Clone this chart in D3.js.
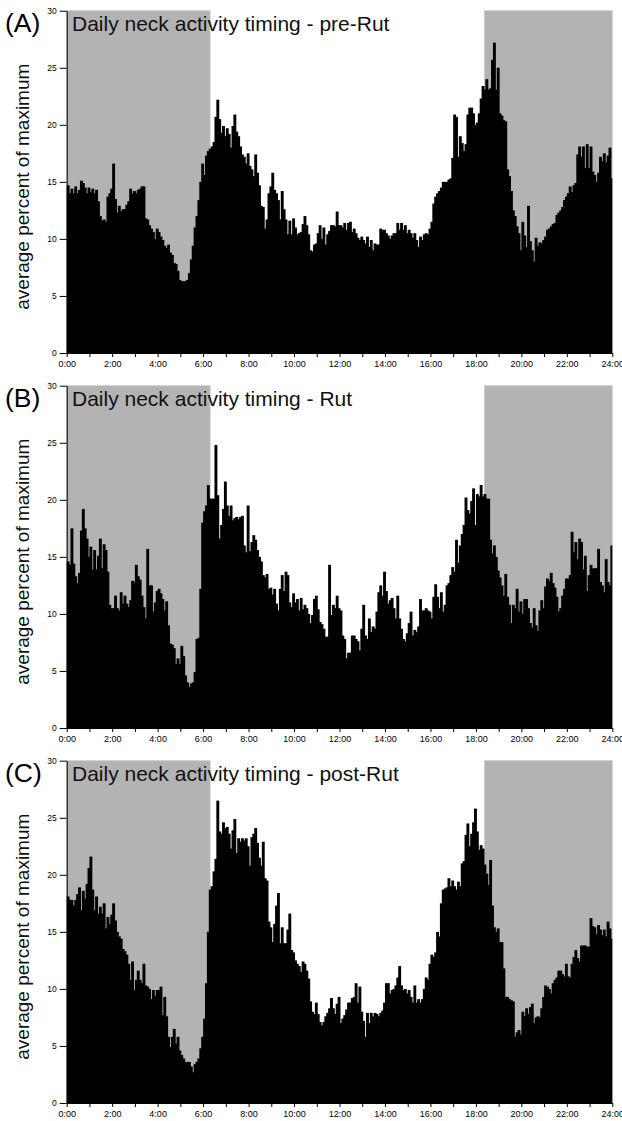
<!DOCTYPE html>
<html>
<head>
<meta charset="utf-8">
<script src="https://cdn.jsdelivr.net/npm/d3@7"></script>
<style>
  html, body { margin: 0; padding: 0; background: #fff; }
  svg { display: block; }
  text { font-family: "Liberation Sans", Arial, Helvetica, sans-serif; }
</style>
</head>
<body>
<svg id="chart" width="622" height="1121"></svg>
<script>
// ---- data (5-minute bins, 0:00 -> 24:00, 288 bins each) ----
const panelLetters = ["(A)", "(B)", "(C)"];
const panelTitles = [
  "Daily neck activity timing - pre-Rut",
  "Daily neck activity timing - Rut",
  "Daily neck activity timing - post-Rut"
];
const yTicks = [0, 5, 10, 15, 20, 25, 30];
const xTickHours = [0,1,2,3,4,5,6,7,8,9,10,11,12,13,14,15,16,17,18,19,20,21,22,23,24];
const xTickLabels = ["0:00","","2:00","","4:00","","6:00","","8:00","","10:00","","12:00","","14:00","","16:00","","18:00","","20:00","","22:00","","24:00"];
const darkMorningEnd = 6.31;   // hours
const darkEveningStart = 18.37; // hours
const yLabel = "average percent of maximum";

const preRut = [
14.7,14.0,14.4,14.0,14.6,14.0,14.3,15.1,14.9,14.5,
14.0,14.5,14.1,14.4,14.0,14.3,13.3,12.0,11.6,11.7,
11.5,13.7,14.0,14.4,16.6,13.5,12.3,12.9,12.4,12.6,
12.6,13.0,13.3,14.4,14.0,14.2,14.0,14.3,14.4,14.6,
14.6,11.8,11.7,11.2,10.9,10.6,10.0,10.9,10.6,10.2,
9.9,9.4,9.2,9.5,8.8,8.6,7.9,7.8,7.2,6.4,
6.3,6.3,6.3,6.4,7.0,8.2,9.4,11.0,12.0,13.4,
15.0,16.6,15.6,17.3,17.7,17.9,18.1,18.5,20.7,22.2,
20.5,19.3,19.9,19.0,19.7,19.2,18.0,19.9,20.9,19.4,
19.0,18.1,17.4,17.2,16.6,17.5,16.4,16.1,15.5,17.4,
15.8,14.7,12.9,12.8,10.9,11.7,14.0,14.6,15.8,14.3,
14.0,13.4,11.7,14.2,12.6,11.7,10.4,11.6,10.4,11.8,
11.0,10.4,10.5,10.6,11.3,12.0,11.2,10.4,9.0,8.9,
9.5,9.6,10.5,11.2,10.0,11.0,9.5,10.4,10.7,11.2,
11.2,11.1,12.4,11.2,
11.2,11.0,11.4,10.8,11.4,11.5,10.6,10.9,10.5,10.1,
9.9,10.2,9.9,9.6,10.2,9.3,9.9,9.0,9.6,9.5,
9.5,10.9,10.8,10.8,10.5,10.3,10.0,10.3,10.5,10.5,
11.4,10.8,11.4,10.8,11.2,10.5,10.8,10.5,10.1,10.5,
9.9,9.3,10.2,9.9,10.4,10.5,10.4,10.9,11.5,13.1,
13.7,14.0,14.2,14.5,15.0,15.0,15.0,15.2,15.3,17.1,
20.9,20.7,17.2,19.0,18.4,17.7,18.3,20.9,21.5,21.5,
21.0,20.0,20.2,21.0,22.3,23.4,23.1,24.0,23.1,23.2,
25.7,27.2,23.1,25.0,21.0,20.8,20.4,20.3,16.1,15.5,
14.2,12.5,12.0,11.1,10.5,9.0,11.5,10.3,9.3,12.9,
9.8,9.0,8.0,10.1,9.4,9.7,9.6,9.9,10.2,10.8,
10.9,11.1,11.3,11.4,12.1,12.3,12.5,12.8,13.4,13.7,
14.0,14.6,14.1,14.7,14.9,17.4,18.1,17.2,18.1,16.2,
18.3,16.2,18.1,15.9,15.6,15.0,15.8,17.2,16.8,17.5,
16.7,17.3,18.0,15.3
];

const rut = [
14.6,14.3,17.5,14.4,13.3,12.7,13.6,17.3,19.2,17.5,
16.6,15.0,15.9,13.9,15.6,13.9,15.1,16.6,14.0,16.1,
15.6,13.7,10.8,10.5,10.5,11.6,10.5,10.3,11.9,10.9,
11.6,10.9,10.6,11.2,12.9,12.8,14.3,13.3,13.0,11.6,
10.6,9.6,15.7,12.5,12.5,10.2,11.0,12.0,12.2,11.8,
11.3,10.3,11.1,9.0,7.4,7.3,7.0,5.6,6.1,5.6,
7.2,6.3,4.6,4.0,3.6,3.9,4.0,4.9,7.8,7.9,
12.2,18.0,19.0,19.5,21.3,20.1,20.1,20.1,24.8,20.4,
16.6,17.8,19.2,21.6,19.5,18.6,19.5,18.2,18.4,18.5,
18.3,18.5,18.6,16.0,15.4,19.5,15.5,16.3,16.9,16.5,
15.6,15.0,14.6,13.4,13.2,13.5,12.2,12.3,11.7,12.2,
10.9,10.3,12.2,13.4,12.0,13.7,13.4,11.0,10.6,11.8,
11.0,11.3,10.3,11.4,10.4,10.8,10.5,10.0,9.2,9.9,
11.3,11.6,10.4,9.3,9.1,8.7,8.0,8.0,14.3,9.9,
10.8,10.5,11.6,10.5,
10.3,8.1,7.8,6.1,6.6,6.6,8.1,8.1,7.8,7.6,
6.8,8.7,10.8,8.1,7.8,9.6,8.4,8.9,8.7,10.2,
11.9,12.5,11.6,13.7,12.0,10.9,11.2,11.4,10.5,9.6,
11.6,9.6,8.7,7.8,7.6,8.3,9.2,10.2,8.1,8.6,
8.4,8.9,11.3,10.3,10.3,10.5,10.3,10.2,9.6,11.5,
12.6,11.5,10.5,11.9,10.2,10.8,12.5,12.7,13.4,14.1,
13.7,16.5,14.5,16.0,17.0,17.8,20.2,19.1,18.8,19.9,
21.0,17.8,20.5,20.3,21.3,20.3,20.5,20.1,20.1,16.5,
15.3,16.0,15.0,13.8,13.2,12.5,11.6,13.5,11.5,10.8,
9.2,10.8,10.5,12.2,10.2,11.1,10.0,11.3,11.3,10.5,
9.2,8.8,10.5,9.0,8.5,10.3,11.2,10.5,12.4,13.1,
12.9,13.6,12.7,12.3,11.5,10.2,10.5,11.6,12.2,13.1,
13.1,13.4,17.2,15.4,16.3,14.8,16.6,16.3,13.9,15.1,
12.0,13.4,14.3,14.0,14.0,14.0,15.7,12.8,12.5,11.9,
14.8,12.8,12.5,16.0
];

const postRut = [
18.1,17.8,17.8,17.3,17.8,18.3,18.9,16.9,18.6,17.9,
19.2,20.6,21.6,18.7,16.9,18.1,16.6,17.2,16.6,17.5,
15.3,16.3,15.7,16.5,17.5,16.0,15.0,14.6,14.4,13.5,
13.3,13.0,12.2,10.8,12.4,9.9,10.8,11.6,10.8,10.5,
12.2,10.3,10.2,10.0,9.1,9.9,9.4,9.9,9.9,10.2,
7.7,9.3,7.6,5.8,4.9,5.8,6.5,5.2,5.8,4.6,
4.2,3.9,3.6,3.6,3.6,3.2,2.7,3.4,3.6,3.9,
4.8,5.8,7.4,10.5,15.0,18.7,19.0,20.3,21.4,26.5,
23.8,23.6,24.6,24.1,24.2,23.6,22.3,23.9,24.9,21.9,
23.2,22.9,23.2,23.0,23.2,22.5,20.8,23.3,23.6,24.1,
22.8,21.5,20.8,22.9,19.7,19.5,15.9,15.4,14.1,15.7,
17.3,18.4,14.0,15.4,14.0,14.0,15.2,16.6,13.4,13.2,
12.5,12.2,12.0,11.5,12.4,12.2,11.6,10.9,8.9,8.0,
7.8,8.8,7.8,7.1,6.8,7.1,7.6,7.9,8.3,9.2,
8.3,7.8,8.7,9.3,
7.0,7.4,7.7,8.2,8.8,8.8,9.2,9.3,10.5,8.8,
10.2,8.0,7.2,5.8,7.9,7.0,7.9,7.6,7.9,7.8,
7.6,7.9,8.1,8.8,10.5,10.5,9.6,9.9,10.0,10.3,
11.0,12.0,10.3,9.9,10.0,9.6,9.9,9.3,8.8,10.3,
8.8,9.1,8.8,9.1,10.0,11.0,10.8,12.2,13.0,12.8,
13.2,15.0,14.6,17.5,18.7,18.8,18.9,19.7,19.0,19.5,
19.0,18.7,19.4,19.0,21.0,21.2,23.5,24.5,22.5,23.6,
24.6,25.8,23.8,22.2,22.6,22.3,20.9,20.1,19.1,21.3,
17.3,15.4,15.0,15.3,14.1,14.1,11.8,9.3,9.3,9.1,
9.0,8.9,5.8,6.2,6.4,6.0,8.0,7.6,8.3,7.8,
8.4,8.7,7.0,7.5,7.6,7.5,8.3,9.3,10.3,10.2,
10.0,9.6,10.5,10.8,11.0,11.6,11.6,11.3,11.1,12.2,
11.1,11.0,12.2,12.8,13.4,12.7,12.4,13.8,13.8,13.8,
13.7,13.7,16.2,15.5,15.4,14.8,15.6,15.2,14.7,15.2,
14.6,15.9,15.3,14.4
];

const seriesList = [preRut, rut, postRut];

// ---- layout ----
const svg = d3.select("#chart");
const left = 66.7, right = 612.3;
const panelTop0 = 10.7, panelH = 342.3, panelStep = 375;
const binHours = 24 / 288;

const x = d3.scaleLinear().domain([0, 24]).range([left, right]);

seriesList.forEach((vals, k) => {
  const top = panelTop0 + k * panelStep;
  const bottom = top + panelH;
  const y = d3.scaleLinear().domain([0, 30]).range([bottom, top]);
  const g = svg.append("g");

  // dark periods
  [[0, darkMorningEnd], [darkEveningStart, 24]].forEach(([a, b]) => {
    g.append("rect")
      .attr("x", x(a)).attr("y", y(30))
      .attr("width", x(b) - x(a)).attr("height", y(0) - y(30))
      .attr("fill", "#b3b3b3")
      .attr("stroke", "#cdcdcd").attr("stroke-width", 0.8);
  });

  // bars
  g.append("g").selectAll("rect").data(vals).join("rect")
    .attr("x", (d, i) => x(i * binHours))
    .attr("width", (d, i) => x((i + 1) * binHours) - x(i * binHours) + (i < vals.length - 1 ? 1 : 0))
    .attr("y", d => y(d))
    .attr("height", d => y(0) - y(d))
    .attr("fill", "#000");

  // y axis
  const ya = g.append("g").attr("transform", `translate(${left},0)`)
    .call(d3.axisLeft(y).tickValues(yTicks).tickSize(7).tickSizeOuter(0).tickPadding(3));
  ya.selectAll("text").attr("font-size", 8.5).attr("fill", "#000")
    .attr("font-family", "'Liberation Sans', Arial, sans-serif");
  ya.selectAll("line,path").attr("stroke", "#000");

  // x axis
  const xa = g.append("g").attr("transform", `translate(0,${bottom})`)
    .call(d3.axisBottom(x).tickValues(xTickHours).tickSize(4).tickSizeOuter(0).tickPadding(4)
      .tickFormat((d, i) => xTickLabels[i]));
  xa.selectAll("text").attr("font-size", 9).attr("fill", "#000")
    .attr("font-family", "'Liberation Sans', Arial, sans-serif");
  xa.selectAll("line,path").attr("stroke", "#000");

  // panel letter
  g.append("text").attr("x", 5).attr("y", top + 21)
    .attr("font-size", 26.5).attr("fill", "#000").text(panelLetters[k]);

  // title
  g.append("text").attr("x", 72).attr("y", top + 20.5)
    .attr("font-size", 21).attr("fill", "#111").text(panelTitles[k]);

  // y label
  g.append("text")
    .attr("transform", `translate(29,${top + 176}) rotate(-90)`)
    .attr("text-anchor", "middle")
    .attr("font-size", 19).attr("fill", "#111").text(yLabel);
});
</script>
</body>
</html>
